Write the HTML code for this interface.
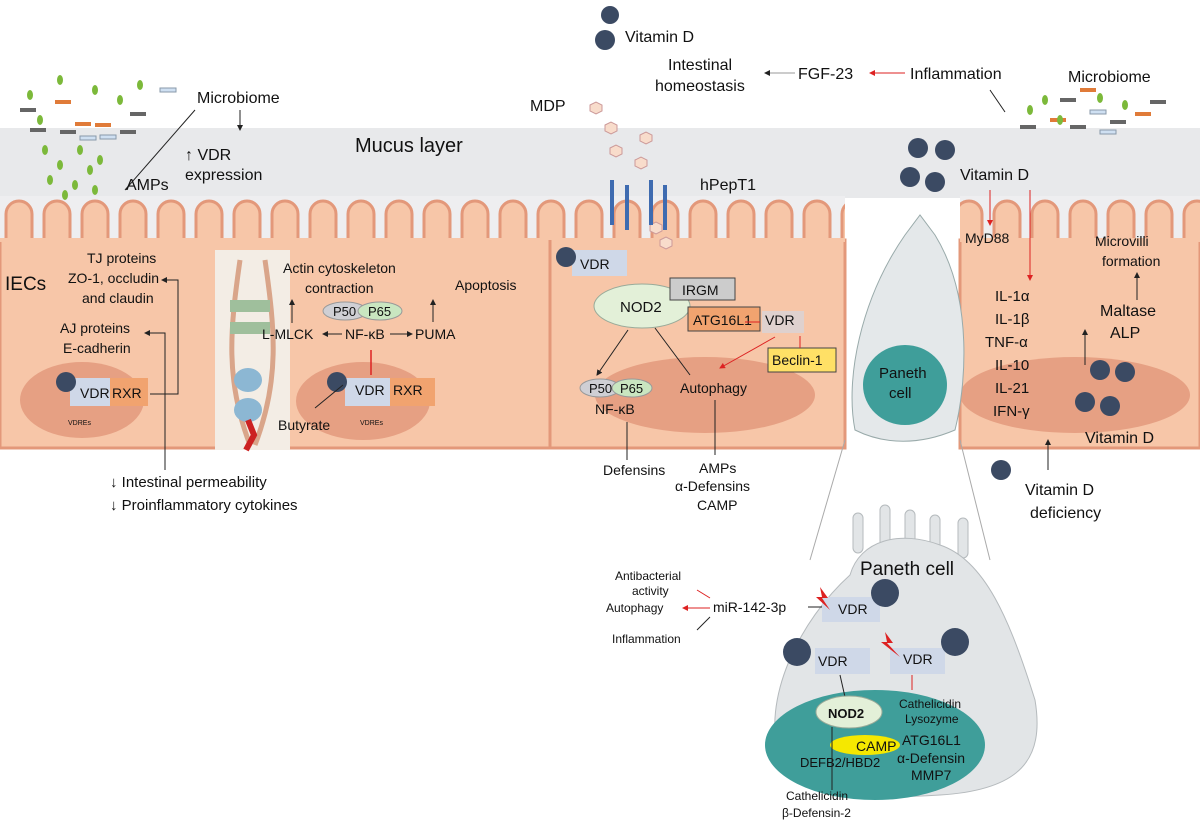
<!DOCTYPE html>
<html><head><meta charset="utf-8"><style>
html,body{margin:0;padding:0;background:#fff}
svg{display:block}
text{font-family:"Liberation Sans",sans-serif;fill:#111}
</style></head><body>
<svg width="1200" height="822" viewBox="0 0 1200 822" xmlns="http://www.w3.org/2000/svg">
<defs>
<marker id="a" markerWidth="6" markerHeight="6" refX="5" refY="3" orient="auto"><path d="M0,0L6,3L0,6z" fill="#222"/></marker>
<marker id="r" markerWidth="6" markerHeight="6" refX="5" refY="3" orient="auto"><path d="M0,0L6,3L0,6z" fill="#d22"/></marker>
<pattern id="villi" x="0" y="198" width="38" height="60" patternUnits="userSpaceOnUse">
<path d="M6,62 V16 a13,13 0 0 1 26,0 V62" fill="#f7c6a8" stroke="#e3987a" stroke-width="3"/>
</pattern>
</defs>
<!-- mucus -->
<rect x="0" y="128" width="1200" height="70" fill="#e8e9eb"/>
<rect x="0" y="196" width="845" height="50" fill="#eeeef0"/>
<rect x="960" y="196" width="240" height="50" fill="#eeeef0"/>
<!-- epithelium -->
<rect x="0" y="198" width="845" height="50" fill="url(#villi)"/>
<rect x="960" y="198" width="240" height="50" fill="url(#villi)"/>
<rect x="0" y="240" width="845" height="208" fill="#f7c6a8" stroke="#e3987a" stroke-width="3"/>
<rect x="960" y="240" width="240" height="208" fill="#f7c6a8" stroke="#e3987a" stroke-width="3"/>
<rect x="0" y="238" width="845" height="4" fill="#f7c6a8"/>
<rect x="960" y="238" width="240" height="4" fill="#f7c6a8"/>
<rect x="215" y="250" width="75" height="200" fill="#f3ede5"/>
<path d="M240,260 C230,330 225,380 250,445 M265,260 C275,330 280,380 255,445" stroke="#d9a58a" stroke-width="5" fill="none"/>
<rect x="230" y="300" width="40" height="12" fill="#9fbf9c"/><rect x="230" y="322" width="40" height="12" fill="#9fbf9c"/>
<ellipse cx="248" cy="380" rx="14" ry="12" fill="#8cb7d3"/><ellipse cx="248" cy="410" rx="14" ry="12" fill="#8cb7d3"/>
<path d="M248,420 l6,15 -8,15" stroke="#c22" stroke-width="6" fill="none"/>
<line x1="550" y1="240" x2="550" y2="448" stroke="#e3987a" stroke-width="3"/>
<!-- nuclei -->
<ellipse cx="82" cy="400" rx="62" ry="38" fill="#e6a083"/>
<ellipse cx="363" cy="401" rx="67" ry="39" fill="#e6a083"/>
<ellipse cx="705" cy="395" rx="110" ry="38" fill="#e6a083"/>
<ellipse cx="1075" cy="395" rx="115" ry="38" fill="#e6a083"/>
<!-- left VDR RXR -->
<rect x="108" y="378" width="40" height="28" fill="#f1a36f"/><rect x="70" y="378" width="40" height="28" fill="#cfd8e8"/>
<circle cx="66" cy="382" r="10" fill="#3b4a63"/>
<text x="80" y="398" font-size="14">VDR</text><text x="112" y="398" font-size="14">RXR</text>
<text x="68" y="425" font-size="7">VDREs</text>
<rect x="390" y="378" width="45" height="28" fill="#f1a36f"/><rect x="345" y="378" width="45" height="28" fill="#cfd8e8"/>
<circle cx="337" cy="382" r="10" fill="#3b4a63"/>
<text x="355" y="395" font-size="14">VDR</text><text x="393" y="395" font-size="14">RXR</text>
<text x="360" y="425" font-size="7">VDREs</text>
<!-- microbes left -->
<g fill="#7cb93a">
<ellipse cx="45" cy="150" rx="3" ry="5"/><ellipse cx="80" cy="150" rx="3" ry="5"/><ellipse cx="60" cy="165" rx="3" ry="5"/><ellipse cx="90" cy="170" rx="3" ry="5"/><ellipse cx="50" cy="180" rx="3" ry="5"/><ellipse cx="75" cy="185" rx="3" ry="5"/><ellipse cx="100" cy="160" rx="3" ry="5"/><ellipse cx="65" cy="195" rx="3" ry="5"/><ellipse cx="95" cy="190" rx="3" ry="5"/>
<ellipse cx="30" cy="95" rx="3" ry="5"/><ellipse cx="60" cy="80" rx="3" ry="5"/><ellipse cx="95" cy="90" rx="3" ry="5"/><ellipse cx="120" cy="100" rx="3" ry="5"/><ellipse cx="140" cy="85" rx="3" ry="5"/><ellipse cx="40" cy="120" rx="3" ry="5"/>
</g>
<g><rect x="30" y="128" width="16" height="4" fill="#666"/><rect x="60" y="130" width="16" height="4" fill="#666"/><rect x="75" y="122" width="16" height="4" fill="#e07b39"/><rect x="95" y="123" width="16" height="4" fill="#e07b39"/><rect x="120" y="130" width="16" height="4" fill="#666"/><rect x="80" y="136" width="16" height="4" fill="#cfe0f2" stroke="#89a"/><rect x="100" y="135" width="16" height="4" fill="#cfe0f2" stroke="#89a"/><rect x="55" y="100" width="16" height="4" fill="#e07b39"/><rect x="160" y="88" width="16" height="4" fill="#cfe0f2" stroke="#89a"/><rect x="130" y="112" width="16" height="4" fill="#666"/><rect x="20" y="108" width="16" height="4" fill="#666"/></g>
<!-- microbes right -->
<g><rect x="1020" y="125" width="16" height="4" fill="#666"/><rect x="1050" y="118" width="16" height="4" fill="#e07b39"/><rect x="1070" y="125" width="16" height="4" fill="#666"/><rect x="1090" y="110" width="16" height="4" fill="#cfe0f2" stroke="#89a"/><rect x="1110" y="120" width="16" height="4" fill="#666"/><rect x="1135" y="112" width="16" height="4" fill="#e07b39"/><rect x="1060" y="98" width="16" height="4" fill="#666"/><rect x="1080" y="88" width="16" height="4" fill="#e07b39"/><rect x="1100" y="130" width="16" height="4" fill="#cfe0f2" stroke="#89a"/><rect x="1150" y="100" width="16" height="4" fill="#666"/></g>
<g fill="#7cb93a"><ellipse cx="1030" cy="110" rx="3" ry="5"/><ellipse cx="1060" cy="120" rx="3" ry="5"/><ellipse cx="1100" cy="98" rx="3" ry="5"/><ellipse cx="1125" cy="105" rx="3" ry="5"/><ellipse cx="1045" cy="100" rx="3" ry="5"/></g>
<!-- Paneth cell small -->
<path d="M855,430 C845,380 860,300 905,235 L920,215 L935,235 C975,300 965,390 955,430 C920,445 885,445 855,430z" fill="#e4e8ea" stroke="#9aa" stroke-width="1"/>
<ellipse cx="905" cy="385" rx="42" ry="40" fill="#3f9e9a"/>
<text x="879" y="378" font-size="15">Paneth</text><text x="889" y="398" font-size="15">cell</text>
<!-- zoom lines -->
<line x1="845" y1="440" x2="810" y2="560" stroke="#aaa"/><line x1="960" y1="440" x2="990" y2="560" stroke="#aaa"/>
<!-- big Paneth cell -->
<g fill="#e2e5e7" stroke="#b5babd"><rect x="853" y="513" width="10" height="40" rx="5"/><rect x="880" y="505" width="10" height="45" rx="5"/><rect x="905" y="510" width="10" height="40" rx="5"/><rect x="930" y="515" width="10" height="40" rx="5"/><rect x="958" y="518" width="10" height="40" rx="5"/></g>
<path d="M780,760 C760,700 800,620 850,575 C860,540 900,530 940,545 C985,560 1010,620 1035,700 C1045,760 1020,790 940,795 C860,800 790,795 780,760z" fill="#e2e5e7" stroke="#b5babd"/>
<ellipse cx="875" cy="745" rx="110" ry="55" fill="#3f9e9a"/>
<text x="860" y="575" font-size="19">Paneth cell</text>
<!-- top texts -->
<circle cx="610" cy="15" r="9" fill="#3b4a63"/><circle cx="605" cy="40" r="10" fill="#3b4a63"/>
<text x="625" y="42" font-size="16">Vitamin D</text>
<text x="668" y="70" font-size="16">Intestinal</text><text x="655" y="91" font-size="16">homeostasis</text>
<line x1="795" y1="73" x2="765" y2="73" stroke="#999" marker-end="url(#a)"/>
<text x="798" y="79" font-size="16">FGF-23</text>
<line x1="905" y1="73" x2="870" y2="73" stroke="#d22" marker-end="url(#r)"/>
<text x="910" y="79" font-size="16">Inflammation</text>
<text x="1068" y="82" font-size="16">Microbiome</text>
<line x1="990" y1="90" x2="1005" y2="112" stroke="#222"/>
<text x="197" y="103" font-size="16">Microbiome</text>
<line x1="195" y1="110" x2="125" y2="190" stroke="#222"/>
<line x1="240" y1="110" x2="240" y2="130" stroke="#222" marker-end="url(#a)"/>
<text x="126" y="190" font-size="16">AMPs</text>
<text x="185" y="160" font-size="16">↑ VDR</text><text x="185" y="180" font-size="16">expression</text>
<text x="355" y="152" font-size="20">Mucus layer</text>
<text x="530" y="111" font-size="16">MDP</text>
<g fill="#f8dccb" stroke="#c99"><polygon points="590,105 596,102 602,105 602,111 596,114 590,111"/><polygon points="605,125 611,122 617,125 617,131 611,134 605,131"/><polygon points="610,148 616,145 622,148 622,154 616,157 610,154"/><polygon points="640,135 646,132 652,135 652,141 646,144 640,141"/><polygon points="635,160 641,157 647,160 647,166 641,169 635,166"/><polygon points="660,240 666,237 672,240 672,246 666,249 660,246"/><polygon points="650,225 656,222 662,225 662,231 656,234 650,231"/></g>
<g stroke="#3e6bb0" stroke-width="4"><line x1="612" y1="180" x2="612" y2="225"/><line x1="627" y1="185" x2="627" y2="230"/><line x1="651" y1="180" x2="651" y2="225"/><line x1="665" y1="185" x2="665" y2="230"/></g>
<text x="700" y="190" font-size="16">hPepT1</text>
<circle cx="918" cy="148" r="10" fill="#3b4a63"/><circle cx="945" cy="150" r="10" fill="#3b4a63"/><circle cx="910" cy="177" r="10" fill="#3b4a63"/><circle cx="935" cy="182" r="10" fill="#3b4a63"/>
<text x="960" y="180" font-size="16">Vitamin D</text>
<!-- left cell text -->
<text x="5" y="290" font-size="19">IECs</text>
<text x="87" y="263" font-size="14">TJ proteins</text>
<text x="68" y="283" font-size="14">ZO-1, occludin</text>
<text x="82" y="303" font-size="14">and claudin</text>
<text x="60" y="333" font-size="14">AJ proteins</text>
<text x="63" y="353" font-size="14">E-cadherin</text>
<path d="M150,394 H178 V280 H162" stroke="#222" fill="none" marker-end="url(#a)"/>
<path d="M165,470 V333 H145" stroke="#222" fill="none" marker-end="url(#a)"/>
<text x="110" y="487" font-size="15">↓ Intestinal permeability</text>
<text x="110" y="510" font-size="15">↓ Proinflammatory cytokines</text>
<!-- middle cell -->
<text x="283" y="273" font-size="14">Actin cytoskeleton</text>
<text x="305" y="293" font-size="14">contraction</text>
<text x="455" y="290" font-size="14">Apoptosis</text>
<ellipse cx="345" cy="311" rx="22" ry="9" fill="#cfcfd4" stroke="#999"/><ellipse cx="380" cy="311" rx="22" ry="9" fill="#c9e6c0" stroke="#999"/>
<text x="333" y="316" font-size="13">P50</text><text x="368" y="316" font-size="13">P65</text>
<text x="262" y="339" font-size="14">L-MLCK</text><text x="345" y="339" font-size="14">NF-κB</text><text x="415" y="339" font-size="14">PUMA</text>
<line x1="342" y1="334" x2="323" y2="334" stroke="#222" marker-end="url(#a)"/>
<line x1="390" y1="334" x2="412" y2="334" stroke="#222" marker-end="url(#a)"/>
<line x1="292" y1="323" x2="292" y2="300" stroke="#222" marker-end="url(#a)"/>
<line x1="433" y1="322" x2="433" y2="300" stroke="#222" marker-end="url(#a)"/>
<line x1="371" y1="375" x2="371" y2="350" stroke="#d22" stroke-width="1.5"/>
<line x1="315" y1="408" x2="343" y2="385" stroke="#222"/>
<text x="278" y="430" font-size="14">Butyrate</text>
<!-- NOD2 cell -->
<rect x="572" y="250" width="55" height="26" fill="#cfd8e8"/><circle cx="566" cy="257" r="10" fill="#3b4a63"/>
<text x="580" y="269" font-size="14">VDR</text>
<ellipse cx="642" cy="306" rx="48" ry="22" fill="#e3f0d8" stroke="#9a9"/>
<text x="620" y="312" font-size="15">NOD2</text>
<rect x="670" y="278" width="65" height="22" fill="#ccc" stroke="#444"/><text x="682" y="295" font-size="14">IRGM</text>
<rect x="688" y="307" width="72" height="24" fill="#f1a36f" stroke="#444"/><text x="693" y="325" font-size="14">ATG16L1</text>
<rect x="762" y="311" width="42" height="22" fill="#cfd8e8" opacity=".6"/>
<text x="765" y="325" font-size="14">VDR</text>
<rect x="768" y="348" width="68" height="24" fill="#ffe066" stroke="#444"/><text x="772" y="365" font-size="14">Beclin-1</text>
<ellipse cx="600" cy="388" rx="20" ry="9" fill="#cfcfd4" stroke="#999"/><ellipse cx="632" cy="388" rx="20" ry="9" fill="#c9e6c0" stroke="#999"/>
<text x="589" y="393" font-size="13">P50</text><text x="620" y="393" font-size="13">P65</text>
<text x="595" y="414" font-size="14">NF-κB</text>
<text x="680" y="393" font-size="14">Autophagy</text>
<line x1="628" y1="330" x2="597" y2="375" stroke="#222" marker-end="url(#a)"/>
<line x1="655" y1="328" x2="690" y2="375" stroke="#222"/>
<line x1="760" y1="322" x2="745" y2="322" stroke="#d22"/>
<line x1="775" y1="337" x2="720" y2="368" stroke="#d22" marker-end="url(#r)"/>
<line x1="800" y1="336" x2="800" y2="348" stroke="#d22"/>
<line x1="627" y1="422" x2="627" y2="460" stroke="#222"/>
<line x1="715" y1="400" x2="715" y2="455" stroke="#222"/>
<text x="603" y="475" font-size="14">Defensins</text>
<text x="699" y="473" font-size="14">AMPs</text>
<text x="675" y="491" font-size="14">α-Defensins</text>
<text x="697" y="510" font-size="14">CAMP</text>
<!-- right cell -->
<text x="965" y="243" font-size="14">MyD88</text>
<line x1="990" y1="190" x2="990" y2="225" stroke="#d22" marker-end="url(#r)"/>
<line x1="1030" y1="190" x2="1030" y2="280" stroke="#d22" marker-end="url(#r)"/>
<text x="1095" y="246" font-size="14">Microvilli</text><text x="1102" y="266" font-size="14">formation</text>
<text x="1100" y="316" font-size="16">Maltase</text><text x="1110" y="338" font-size="16">ALP</text>
<line x1="1137" y1="300" x2="1137" y2="273" stroke="#222" marker-end="url(#a)"/>
<line x1="1085" y1="365" x2="1085" y2="330" stroke="#222" marker-end="url(#a)"/>
<g font-size="15"><text x="995" y="301">IL-1α</text><text x="995" y="324">IL-1β</text><text x="985" y="347">TNF-α</text><text x="995" y="370">IL-10</text><text x="995" y="393">IL-21</text><text x="993" y="416">IFN-γ</text></g>
<circle cx="1100" cy="370" r="10" fill="#3b4a63"/><circle cx="1125" cy="372" r="10" fill="#3b4a63"/><circle cx="1085" cy="402" r="10" fill="#3b4a63"/><circle cx="1110" cy="406" r="10" fill="#3b4a63"/>
<text x="1085" y="443" font-size="16">Vitamin D</text>
<line x1="1048" y1="470" x2="1048" y2="440" stroke="#222" marker-end="url(#a)"/>
<circle cx="1001" cy="470" r="10" fill="#3b4a63"/>
<text x="1025" y="495" font-size="16">Vitamin D</text><text x="1030" y="518" font-size="16">deficiency</text>
<!-- big paneth content -->
<text x="615" y="580" font-size="12">Antibacterial</text><text x="632" y="595" font-size="12">activity</text>
<text x="606" y="612" font-size="12">Autophagy</text>
<text x="612" y="643" font-size="12">Inflammation</text>
<text x="713" y="612" font-size="14">miR-142-3p</text>
<line x1="697" y1="590" x2="710" y2="598" stroke="#d22"/><line x1="710" y1="608" x2="683" y2="608" stroke="#d22" marker-end="url(#r)"/><line x1="710" y1="617" x2="697" y2="630" stroke="#222"/>
<line x1="808" y1="607" x2="822" y2="607" stroke="#222"/>
<rect x="822" y="597" width="58" height="25" fill="#cfd8e8"/><circle cx="885" cy="593" r="14" fill="#3b4a63"/><text x="838" y="614" font-size="14">VDR</text>
<polygon points="820,587 828,598 822,598 830,610 816,597 822,597" fill="#d22"/>
<rect x="815" y="648" width="55" height="26" fill="#cfd8e8"/><circle cx="797" cy="652" r="14" fill="#3b4a63"/><text x="818" y="666" font-size="14">VDR</text>
<rect x="890" y="648" width="55" height="26" fill="#cfd8e8"/><circle cx="955" cy="642" r="14" fill="#3b4a63"/><text x="903" y="664" font-size="14">VDR</text>
<polygon points="885,632 893,643 887,643 900,657 881,642 887,642" fill="#d22"/>
<line x1="912" y1="675" x2="912" y2="690" stroke="#d22"/>
<line x1="840" y1="675" x2="845" y2="697" stroke="#222"/>
<ellipse cx="849" cy="712" rx="33" ry="16" fill="#e3f0d8" stroke="#9a9"/><text x="828" y="718" font-size="13" font-weight="bold">NOD2</text>
<ellipse cx="865" cy="745" rx="35" ry="10" fill="#f5e800"/><text x="856" y="751" font-size="14">CAMP</text>
<text x="899" y="708" font-size="12">Cathelicidin</text><text x="905" y="723" font-size="12">Lysozyme</text>
<text x="902" y="745" font-size="14">ATG16L1</text><text x="897" y="763" font-size="14">α-Defensin</text><text x="911" y="780" font-size="14">MMP7</text>
<text x="800" y="767" font-size="13">DEFB2/HBD2</text>
<line x1="832" y1="727" x2="832" y2="790" stroke="#222"/>
<text x="786" y="800" font-size="12">Cathelicidin</text><text x="782" y="817" font-size="12">β-Defensin-2</text>
</svg>
</body></html>
